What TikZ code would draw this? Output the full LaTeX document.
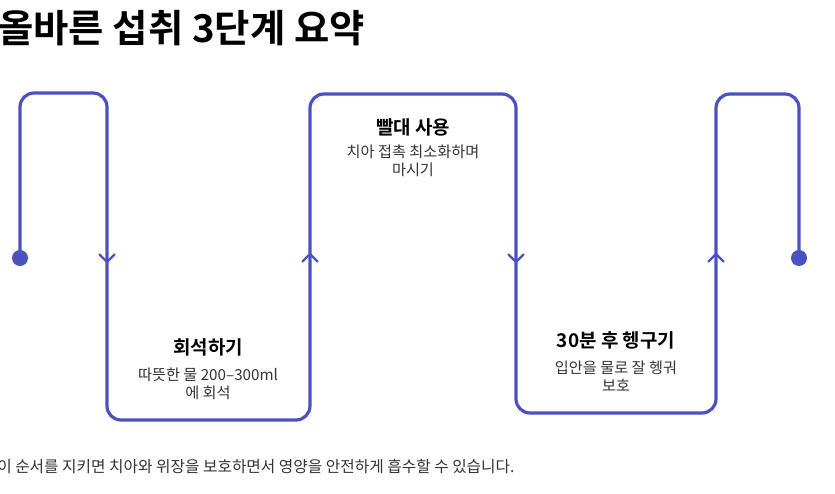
\documentclass[tikz,border=0pt]{standalone}
\usepackage{fontspec}
\setmainfont{Noto Sans CJK KR}
\newfontfamily\krbold{Noto Sans CJK KR Bold}
\usetikzlibrary{calc}
\definecolor{flowc}{HTML}{4B51BD}
\definecolor{desc}{HTML}{333333}
\tikzset{
  flow/.style={draw=flowc, line width=2.4pt, line cap=round, line join=round},
  chev/.style={draw=flowc, line width=1.8pt, line cap=round, line join=miter},
  head/.style={font=\krbold\fontsize{14.2}{17}\selectfont, text=black, inner sep=0pt},
  body/.style={font=\fontsize{11.4}{13}\selectfont, text=desc, align=center, inner sep=0pt},
}
\begin{document}
\begin{tikzpicture}[x=0.75pt, y=-0.75pt]
\useasboundingbox (0,0) rectangle (835,493);
% title
\node[anchor=west, inner sep=0pt, font=\krbold\fontsize{28.8}{32}\selectfont] (title) at (-2,28) {올바른 섭취 3단계 요약};
% path coordinates
\coordinate (s) at (20,258);
\coordinate (c1) at (20,93);
\coordinate (c2) at (107,93);
\coordinate (c3) at (107,420);
\coordinate (c4) at (310,420);
\coordinate (c5) at (310,94);
\coordinate (c6) at (516,94);
\coordinate (c7) at (516,413);
\coordinate (c8) at (716,413);
\coordinate (c9) at (716,94);
\coordinate (c10) at (799,94);
\coordinate (e) at (799,258);
\draw[flow, rounded corners=10.5pt] (s) -- (c1) -- (c2) -- (c3) -- (c4) -- (c5) -- (c6) -- (c7) -- (c8) -- (c9) -- (c10) -- (e);
\fill[flowc] (s) circle (6pt);
\fill[flowc] (e) circle (6pt);
% chevrons
\coordinate (a1) at (107,262);
\coordinate (a2) at (310,254);
\coordinate (a3) at (516,262);
\coordinate (a4) at (716,254);
\draw[chev] ($(a1)+(-7.5,-7.5)$) -- (a1) -- ($(a1)+(7.5,-7.5)$);
\draw[chev] ($(a2)+(-7.5,7.5)$) -- (a2) -- ($(a2)+(7.5,7.5)$);
\draw[chev] ($(a3)+(-7.5,-7.5)$) -- (a3) -- ($(a3)+(7.5,-7.5)$);
\draw[chev] ($(a4)+(-7.5,7.5)$) -- (a4) -- ($(a4)+(7.5,7.5)$);
% step texts
\node[head] (h2) at (413,127) {빨대 사용};
\node[body, anchor=north] (d2) at (413,145) {치아 접촉 최소화하며\\마시기};
\node[head] (h1) at (208,347) {회석하기};
\node[body, anchor=north] (d1) at (208,368) {따뜻한 물 200–300ml\\에 회석};
\node[head] (h3) at (616,340) {30분 후 헹구기};
\node[body, anchor=north] (d3) at (616,361) {입안을 물로 잘 헹궈\\보호};
% caption
\node[anchor=west, inner sep=0pt, font=\fontsize{11.8}{13}\selectfont, text=desc] (cap) at (-3,467) {이 순서를 지키면 치아와 위장을 보호하면서 영양을 안전하게 흡수할 수 있습니다.};
\end{tikzpicture}
\end{document}
